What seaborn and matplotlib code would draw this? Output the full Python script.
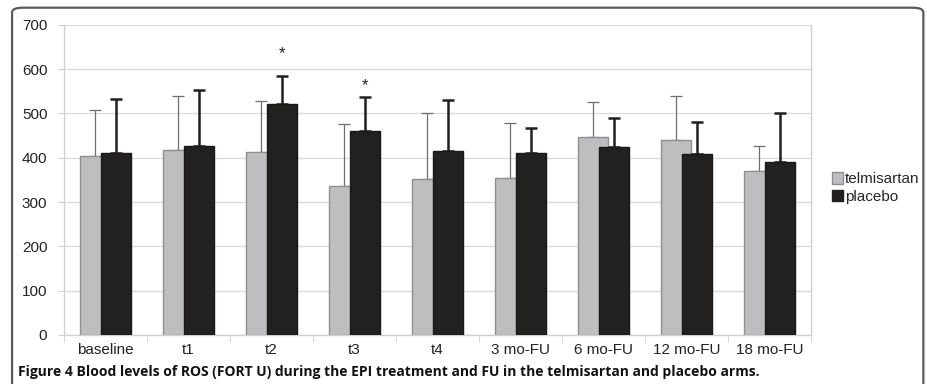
import numpy as np
import pandas as pd
import seaborn as sns
import matplotlib.pyplot as plt
from matplotlib.patches import FancyBboxPatch, Patch

# data
times = ['baseline', 't1', 't2', 't3', 't4', '3 mo-FU', '6 mo-FU', '12 mo-FU', '18 mo-FU']
telmisartan = [403, 417, 413, 337, 351, 354, 448, 441, 371]
placebo = [411, 427, 522, 461, 416, 411, 425, 409, 390]
telmisartan_top = [507, 540, 528, 477, 501, 479, 527, 540, 427]
placebo_top = [533, 552, 584, 538, 531, 467, 489, 481, 500]
stars = {'t2': 636, 't3': 562}

grey = '#bdbec1'
black = '#231f20'

sns.set_style('white')
plt.rcParams['font.family'] = ['Liberation Sans', 'DejaVu Sans']

df = pd.DataFrame({
    'time': times * 2,
    'value': telmisartan + placebo,
    'arm': ['telmisartan'] * len(times) + ['placebo'] * len(times),
})

fig = plt.figure(figsize=(9.28, 3.84), dpi=100)
ax = fig.add_axes([0.069, 0.128, 0.805, 0.807])

sns.barplot(data=df, x='time', y='value', hue='arm', order=times,
            hue_order=['telmisartan', 'placebo'],
            palette={'telmisartan': grey, 'placebo': black},
            width=0.52, gap=-0.4, errorbar=None, legend=False, ax=ax,
            linewidth=1.0, edgecolor='#8e8f92', zorder=2)

# placebo edges dark
n = len(times)
bars = ax.patches[:2 * n]
for p in bars[n:]:
    p.set_edgecolor('#1a1718')
    p.set_zorder(3)

# one-sided error bars
tx = [p.get_x() + p.get_width() / 2 for p in bars[:n]]
px = [p.get_x() + p.get_width() / 2 for p in bars[n:]]
t_err = np.array(telmisartan_top) - np.array(telmisartan)
p_err = np.array(placebo_top) - np.array(placebo)
ax.errorbar(tx, telmisartan, yerr=[np.zeros(n), t_err], fmt='none',
            ecolor='#6d6e70', elinewidth=0.9, capsize=4, capthick=0.9, zorder=1.5)
ax.errorbar(px, placebo, yerr=[np.zeros(n), p_err], fmt='none',
            ecolor=black, elinewidth=1.8, capsize=4, capthick=1.8, zorder=2.5)

for t, yv in stars.items():
    i = times.index(t)
    ax.text(px[i], yv, '*', ha='center', va='center', fontsize=12, color=black)

ax.set_ylim(0, 700)
ax.set_xlim(-0.5, n - 0.5)
ax.set_yticks(range(0, 701, 100))
ax.yaxis.grid(True, color='#dcdcdc', linewidth=1.0, zorder=0)
ax.set_axisbelow(True)
ax.set_xlabel('')
ax.set_ylabel('')
for s in ['left', 'right', 'bottom']:
    ax.spines[s].set_color('#d0d0d0')
    ax.spines[s].set_linewidth(1.0)
ax.spines['top'].set_visible(False)
ax.tick_params(axis='x', length=0, pad=6, labelsize=11, labelcolor='#222222')
ax.tick_params(axis='y', length=4, color='#d0d0d0', direction='out', pad=8,
               labelsize=11, labelcolor='#222222', left=True)
ax.set_xticks(np.arange(-0.5, n, 1.0), minor=True)
ax.tick_params(axis='x', which='minor', length=5, color='#d0d0d0', bottom=True)

handles = [Patch(facecolor=grey, edgecolor='#8e8f92', label='telmisartan'),
           Patch(facecolor=black, edgecolor=black, label='placebo')]
fig.legend(handles=handles, loc='center left', bbox_to_anchor=(0.888, 0.51),
           frameon=False, fontsize=11, handlelength=0.75, handleheight=0.75,
           handletextpad=0.1, labelspacing=0.25, borderpad=0)

# outer rounded frame (bottom edge runs off the image)
box = FancyBboxPatch((0.013, -0.1), 0.982, 1.08, transform=fig.transFigure,
                     boxstyle='round,pad=0,rounding_size=0.012', fill=False,
                     edgecolor='#5a5a5a', linewidth=1.6, clip_on=False)
fig.patches.append(box)

fig.text(0.019, 0.031,
         'Figure 4 Blood levels of ROS (FORT U) during the EPI treatment and FU in the telmisartan and placebo arms.',
         fontsize=10, fontweight='bold', family=['Open Sans', 'DejaVu Sans'],
         color='#111111', ha='left', va='center')

plt.savefig('out.png', dpi=100)
